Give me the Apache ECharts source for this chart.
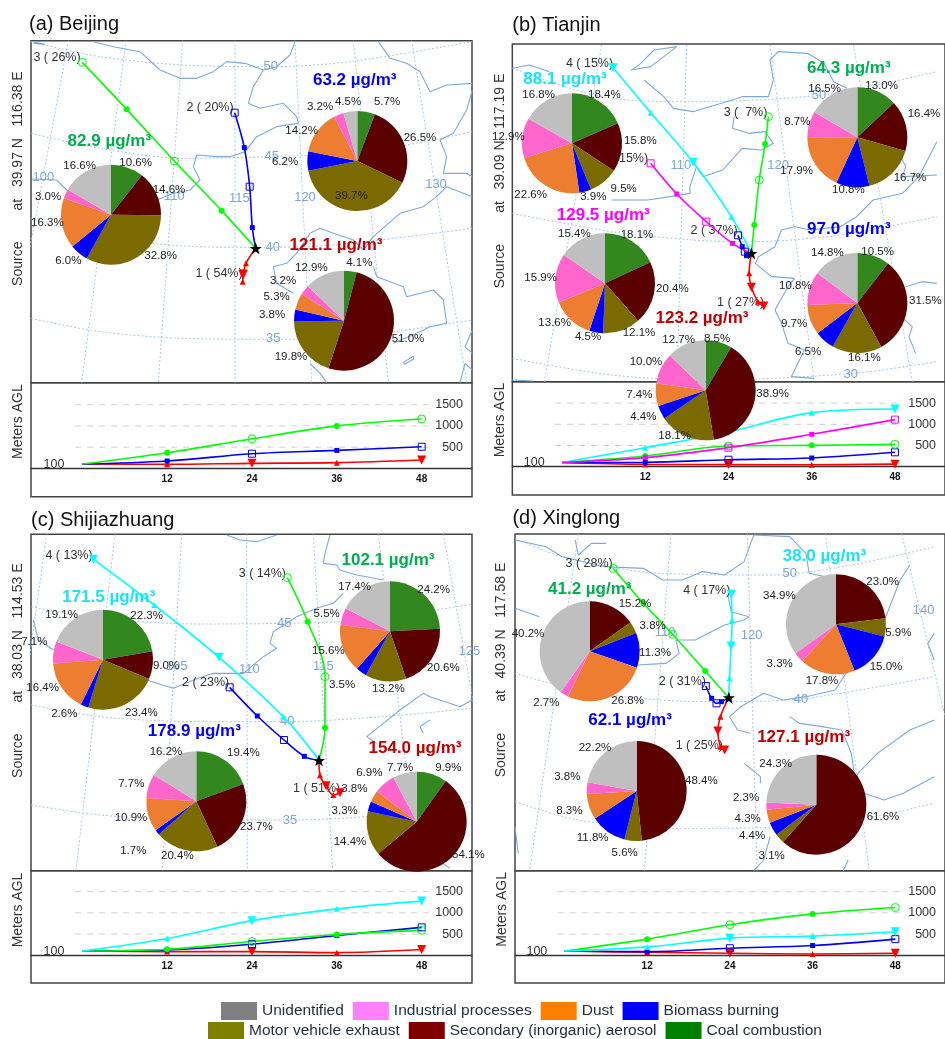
<!DOCTYPE html>
<html><head><meta charset="utf-8">
<style>html,body{margin:0;padding:0;background:#fff}#c{width:945px;height:1039px}</style>
<script src="https://cdn.jsdelivr.net/npm/echarts@6/dist/echarts.min.js"></script>
</head><body><div id="c"></div>
<script>
// ---------- DATA ----------
const categories = ['Coal combustion','Secondary (inorganic) aerosol','Motor vehicle exhaust','Biomass burning','Dust','Industrial processes','Unidentified'];
const hours = [0,12,24,36,48];
const heightTicks = [500,1000,1500];
const xTicks = [12,24,36,48];
const cityTitles = ['(a) Beijing','(b) Tianjin','(c) Shijiazhuang','(d) Xinglong'];
const sourceTexts = ['Source        at   39.97 N   116.38 E','Source        at   39.09 N   117.19 E','Source        at   38.03 N   114.53 E','Source        at   40.39 N   117.58 E'];

// PM2.5 per cluster and source shares (order of `categories`)
const beijingTotals = [82.9,63.2,121.1];
const beijingShares = [[10.6,14.6,32.8,6.0,16.3,3.0,16.6],[5.7,26.5,39.7,6.2,14.2,3.2,4.5],[4.1,51.0,19.8,3.8,5.3,3.2,12.9]];
const tianjinTotals = [88.1,64.3,129.5,97.0,123.2];
const tianjinShares = [[18.4,15.8,9.5,3.9,22.6,12.9,16.8],[13.0,16.4,16.7,10.8,17.9,8.7,16.5],[18.1,20.4,12.1,4.5,13.6,15.9,15.4],[10.5,31.5,16.1,6.5,9.7,10.8,14.8],[8.5,38.9,18.1,4.4,7.4,10.0,12.7]];
const shijiazhuangTotals = [171.5,102.1,178.9,154.0];
const shijiazhuangShares = [[22.3,9.0,23.4,2.6,16.4,7.1,19.1],[24.2,20.6,13.2,3.5,15.6,5.5,17.4],[19.4,23.7,20.4,1.7,10.9,7.7,16.2],[9.9,54.1,14.4,3.3,3.8,6.9,7.7]];
const xinglongTotals = [41.2,38.0,62.1,127.1];
const xinglongShares = [[0,15.2,3.8,11.3,26.8,2.7,40.2],[0,23.0,5.9,15.0,17.8,3.3,34.9],[0,48.4,5.6,11.8,8.3,3.8,22.2],[0,61.6,3.1,4.4,4.3,2.3,24.3]];

// Back-trajectories in map units: receptor, 12 h, 24 h, 36 h, 48 h
const beijingRoutes = [
 [[767,745],[738,790],[730,822],[728,845],[729,825]],
 [[767,745],[757,683],[749,560],[733,443],[704,338]],
 [[767,745],[665,632],[523,483],[380,328],[247,187]]];
const tianjinRoutes = [
 [[828,760],[821,820],[828,862],[848,905],[866,918]],
 [[828,760],[813,767],[808,755],[800,740],[787,706]],
 [[828,760],[837,675],[852,540],[870,432],[880,350]],
 [[828,760],[767,650],[650,487],[520,338],[405,203]],
 [[828,760],[770,730],[690,665],[600,582],[520,490]]];
const shijiazhuangRoutes = [
 [[957,781],[960,826],[978,857],[1000,885],[1020,878]],
 [[957,781],[913,769],[852,720],[772,648],[689,562]],
 [[957,781],[975,683],[975,530],[923,365],[862,233]],
 [[957,781],[850,650],[657,472],[463,315],[280,178]]];
const xinglongRoutes = [
 [[763,593],[737,650],[729,693],[737,740],[750,750]],
 [[763,593],[740,605],[725,610],[710,595],[692,558]],
 [[763,593],[690,513],[590,403],[500,310],[407,205]],
 [[763,593],[765,535],[770,438],[773,360],[770,283]]];

// Trajectory height (m AGL) at `hours`
const beijingHeights = [[100,94,117,133,195],[100,172,344,422,508],[100,367,695,1000,1164]];
const tianjinHeights = [[100,55,50,45,60],[100,102,165,205,339],[100,252,488,504,528],[100,449,820,1275,1362],[100,213,449,764,1110]];
const shijiazhuangHeights = [[100,87,87,63,135],[100,127,262,468,659],[100,143,325,492,587],[100,397,817,1095,1278]];
const xinglongHeights = [[100,71,48,32,48],[100,87,167,230,381],[100,381,722,976,1127],[100,198,405,452,556]];

const beijingRouteNames = ['1 ( 54%)','2 ( 20%)','3 ( 26%)'];
const tianjinRouteNames = ['1 ( 27%)','2 ( 37%)','3 (  7%)','4 ( 15%)','5 ( 15%)'];
const shijiazhuangRouteNames = ['1 ( 51%)','2 ( 23%)','3 ( 14%)','4 ( 13%)'];
const xinglongRouteNames = ['1 ( 25%)','2 ( 31%)','3 ( 28%)','4 ( 17%)'];

// Base map in map units
const beijingCoast = [
 [[100,125],[135,133],[100,130]],
 [[280,125],[340,140],[420,155],[480,210],[540,235],[590,235],[640,215],[680,185],[735,190],[790,210],[830,200],[870,165],[885,125]],
 [[790,210],[760,260],[745,310],[780,325],[850,310],[890,350],[895,370],[830,380],[770,410],[735,455],[690,470],[650,470],[590,465],[580,500],[600,540],[570,570],[520,580],[470,600],[420,570]],
 [[95,537],[170,540],[205,575]],
 [[1135,125],[1170,175],[1220,190],[1260,215],[1290,275],[1340,255],[1417,250]],
 [[1417,270],[1400,330],[1360,400],[1320,420],[1340,470],[1330,520],[1400,520],[1417,530]],
 [[1417,590],[1340,560],[1310,590],[1270,620],[1200,640],[1120,710],[1090,750],[1060,720],[1000,700],[960,685],[930,700],[890,760],[860,790],[820,800],[830,850],[880,880]],
 [[1120,800],[1130,830],[1210,860],[1220,890],[1300,870],[1330,900],[1340,970],[1290,980],[1250,1000],[1180,1030]],
 [[930,1090],[960,1120],[980,1148]],
 [[1210,1088],[1240,1068],[1240,1078],[1215,1092],[1210,1088]],
 [[1417,990],[1395,1040],[1417,1060]],[[1380,1148],[1395,1090],[1417,1110]]];
const tianjinCoast = [
 [[460,210],[520,200],[600,140],[530,150],[490,190],[460,212]],
 [[97,205],[150,195],[210,215]],
 [[500,240],[560,290],[590,325],[650,335],[700,320],[770,300],[800,290],[880,290],[895,240],[885,180],[910,155],[1000,160],[1050,190],[1080,245],[1120,265]],
 [[775,350],[770,385],[820,400],[870,395],[895,430],[860,450],[800,445],[740,510],[680,530],[660,500],[640,560],[640,580],[580,590],[510,600],[400,600]],
 [[1280,360],[1300,400],[1275,450],[1300,500],[1290,530],[1395,525]],
 [[1395,425],[1340,530],[1290,580],[1200,600],[1150,650],[1100,680],[1010,690],[960,680],[920,690],[900,740],[850,770],[840,790],[890,830],[960,835],[940,860],[900,930],[920,970],[940,1030],[990,1050],[950,1130],[1020,1135]],
 [[1300,860],[1350,845],[1395,850]],
 [[1285,950],[1320,980],[1310,1010],[1330,1060]],
 [[97,1140],[160,1143]]];
const shijiazhuangCoast = [
 [[680,105],[720,120],[770,125],[830,105]],
 [[990,105],[975,160],[970,190],[1010,195],[1020,210],[1070,225],[1150,240]],
 [[1030,280],[1000,310],[950,325],[890,350],[820,395],[810,430],[830,445],[790,470],[730,520],[640,520],[580,540],[520,565],[470,550],[440,540]],
 [[100,360],[115,420],[160,450]],
 [[1417,600],[1380,620],[1290,590],[1270,580],[1200,630],[1150,670],[1100,710],[1130,730]],
 [[1290,660],[1260,680],[1270,700]],
 [[1320,1085],[1350,1105]]];
const xinglongCoast = [
 [[290,120],[300,165],[340,130],[385,130]],
 [[105,120],[200,140],[250,170],[380,200],[500,205],[560,240],[620,240],[680,215],[750,225],[810,185],[830,130],[840,105]],
 [[840,105],[950,110],[1000,160],[1010,220],[1060,230]],
 [[760,285],[770,335],[825,350],[810,360],[750,375],[700,400],[660,420],[600,420],[610,460],[570,490],[480,495]],
 [[105,325],[180,350]],
 [[1320,195],[1290,240],[1250,340],[1215,420],[1130,510],[1090,570],[1000,590],[930,600],[870,580],[800,620],[765,650],[790,690],[830,700]],
 [[950,650],[980,670],[1050,680],[1110,690],[1140,760],[1150,830],[1080,860]],
 [[810,790],[860,830],[860,850]],
 [[1395,660],[1320,690],[1220,760],[1160,820],[1150,870],[1240,900],[1300,880],[1395,830]],
 [[105,980],[115,1060]],[[1130,1080],[1115,1112]],[[890,1010],[870,1080],[840,1112]],
 [[1395,400],[1375,430],[1395,480]]];

const beijingGraticule = [
 [[93,125],[300,170],[550,195],[812,200],[1050,185],[1417,125]],
 [[93,400],[300,445],[550,475],[812,470],[1100,455],[1417,395]],
 [[93,655],[300,710],[550,738],[767,742],[1000,735],[1417,685]],
 [[93,955],[300,995],[550,1015],[820,1018],[1100,1005],[1417,960]],
 [[205,122],[15,1148]],[[378,122],[245,1148]],[[548,122],[475,1148]],[[705,122],[705,1148]],[[885,122],[935,1148]],[[1060,122],[1165,1148]],[[1235,122],[1400,1148]]];
const tianjinGraticule = [
 [[97,205],[370,290],[630,305],[1040,285],[1395,215]],
 [[97,640],[400,695],[650,720],[828,725],[1100,705],[1395,650]],
 [[97,1075],[400,1125],[700,1140],[1140,1120],[1395,1085]],
 [[370,135],[195,1145]],[[630,135],[600,1145]],[[885,135],[1020,1145]],[[1140,135],[1320,1145]]];
const shijiazhuangGraticule = [
 [[93,320],[300,355],[600,372],[850,370],[1100,360],[1417,312]],
 [[93,615],[300,650],[600,665],[860,665],[1150,650],[1417,625]],
 [[93,915],[300,945],[600,960],[870,960],[1150,945],[1417,905]],
 [[140,103],[0,1112]],[[345,103],[228,1112]],[[545,103],[487,1112]],[[740,103],[742,1112]],[[940,103],[998,1112]],[[1135,103],[1255,1112]],[[1330,103],[1510,1112]]];
const xinglongGraticule = [
 [[105,115],[250,170],[550,220],[900,225],[1395,140]],
 [[105,520],[300,570],[550,600],[760,605],[1000,595],[1395,530]],
 [[105,905],[300,960],[600,985],[1000,980],[1395,910]],
 [[300,102],[150,1112]],[[585,102],[503,1112]],[[820,102],[850,1112]],[[1060,102],[1195,1112]],[[1295,102],[1540,1112]]];

const beijingGridNames = ['50','45','40','35','100','110','115','120','130'];
const tianjinGridNames = ['50','110','120','30'];
const shijiazhuangGridNames = ['45','105','110','115','125','40','35'];
const xinglongGridNames = ['50','110','120','40','140'];

// ---------- LAYOUT AND STYLE ----------
const pieRadius = 50;
const pieColors = ['#33871f','#5a0000','#7a6a00','#0000ff','#ed7d31','#ff66cc','#bfbfbf'];
const legendColors = ['#008000','#800000','#808000','#0000ff','#ff8000','#ff80ff','#808080'];
const routeColorSets = [['#ff0000','#0000ff','#00ff00'],['#ff0000','#0000ff','#00ff00','#00ffff','#ff00ff'],['#ff0000','#0000ff','#00ff00','#00ffff'],['#ff0000','#0000ff','#00ff00','#00ffff']];
const symbolKinds = {'#ff0000':'tri','#00ffff':'tri','#0000ff':'sq','#ff00ff':'sq','#00ff00':'ci'};
const frames = [
 {cropX:0,cropY:0,xMin:93,yMin:122,yMax:1148,hBottom:496.7,base:468.3,zeroX:82.3},
 {cropX:480,cropY:0,xMin:97,yMin:132,yMax:1145,hBottom:495,base:466.7,zeroX:563},
 {cropX:0,cropY:500,xMin:93,yMin:103,yMax:1112,hBottom:983,base:955.3,zeroX:82.3},
 {cropX:480,cropY:500,xMin:105,yMin:102,yMax:1112,hBottom:983,base:955.3,zeroX:565.7}];
const panelWidthPx = 441, pxPerHour = 7.07, pxPer500 = 21.2;

const sharesSets = [beijingShares,tianjinShares,shijiazhuangShares,xinglongShares];
const totalsSets = [beijingTotals,tianjinTotals,shijiazhuangTotals,xinglongTotals];
const routeSets = [beijingRoutes,tianjinRoutes,shijiazhuangRoutes,xinglongRoutes];
const heightSets = [beijingHeights,tianjinHeights,shijiazhuangHeights,xinglongHeights];
const routeNameSets = [beijingRouteNames,tianjinRouteNames,shijiazhuangRouteNames,xinglongRouteNames];
const coastSets = [beijingCoast,tianjinCoast,shijiazhuangCoast,xinglongCoast];
const graticuleSets = [beijingGraticule,tianjinGraticule,shijiazhuangGraticule,xinglongGraticule];
const gridNameSets = [beijingGridNames,tianjinGridNames,shijiazhuangGridNames,xinglongGridNames];

const pieCenters = [
 [[333,644],[1072,483],[1032,962]],
 [[276,430],[1132,412],[375,850],[1132,909],[677,1171]],
 [[309,479],[1170,394],[589,904],[1250,965]],
 [[329,454],[1068,373],[470,873],[1009,914]]];
const pieTitleSpots = [
 [[328,425],[1064,240],[1008,737]],
 [[258,238],[1126,205],[375,645],[1126,687],[677,955]],
 [[326,291],[1164,182],[583,693],[1245,746]],
 [[335,268],[1057,170],[459,662],[993,713]]];
const pieTitleColors = [
 ['#00b050','#0000ff','#c00000'],
 ['#19e3f5','#00b050','#ff00ff','#0000ff','#c00000'],
 ['#19e3f5','#00b050','#0000ff','#c00000'],
 ['#00b050','#19e3f5','#0000ff','#c00000']];
const pctSpots = [
 [[[407,487],[507,570],[482,766],[205,781],[142,667],[144,589],[239,496]],
  [[1161,304],[1260,414],[1054,586],[855,486],[905,393],[960,321],[1044,304]],
  [[1078,787],[1224,1017],[873,1069],[816,945],[830,891],[849,843],[934,804]]],
 [[[373,283],[481,421],[431,565],[340,589],[152,585],[85,411],[176,283]],
  [[1205,256],[1332,340],[1290,532],[1105,570],[950,513],[952,364],[1034,265]],
  [[471,703],[577,865],[477,997],[324,1009],[224,967],[182,832],[283,700]],
  [[1193,754],[1336,901],[1153,1072],[984,1056],[942,972],[946,856],[1042,757]],
  [[711,1015],[878,1180],[584,1306],[490,1249],[478,1183],[498,1084],[596,1018]]],
 [[[440,346],[498,496],[424,637],[193,640],[128,562],[103,425],[185,343]],
  [[1301,268],[1330,502],[1165,566],[1026,553],[985,451],[980,340],[1064,259]],
  [[730,757],[769,979],[532,1067],[400,1051],[393,952],[394,850],[498,754]],
  [[1345,802],[1405,1063],[1050,1024],[1034,931],[1063,865],[1108,817],[1200,802]]],
 [[[0,0],[465,310],[518,376],[525,457],[443,601],[199,607],[144,400]],
  [[0,0],[1208,244],[1255,397],[1218,499],[1026,541],[899,492],[898,286]],
  [[0,0],[664,841],[434,1057],[338,1012],[268,931],[262,829],[345,744]],
  [[0,0],[1209,951],[875,1068],[816,1006],[803,955],[798,892],[887,790]]]];
const routeLabelSpots = [
 [[657,821],[630,323],[171,172]],
 [[795,908],[714,693],[810,337],[333,190],[440,475]],
 [[950,866],[617,548],[787,220],[207,167]],
 [[672,738],[620,546],[333,192],[695,272]]];
const gridNameSpots = [
 [[812,198],[815,468],[818,742],[820,1015],[130,533],[523,590],[718,595],[915,592],[1308,552]],
 [[1035,285],[612,497],[910,497],[1132,1123]],
 [[853,370],[530,500],[748,507],[970,500],[1408,453],[862,665],[870,962]],
 [[950,220],[567,397],[833,405],[985,597],[1362,330]]];
const titleSpots = [[87,73],[97,77],[93,60],[97,55]];
const sourceSpots = [[55,536],[60,543],[55,512],[63,510]];
const metersSpots = [[55,1265],[60,1260],[55,1230],[65,1228]];
const FONT = '"Liberation Sans", Arial, sans-serif';
const STAR = 'path://M0,-10L2.6,-3.1L9.5,-3.1L4,1.2L5.9,8.1L0,3.8L-5.9,8.1L-4,1.2L-9.5,-3.1L-2.6,-3.1Z';

// ---------- OPTION BUILD ----------
const grid=[],xAxis=[],yAxis=[],series=[];
function symbolFor(color,i){
  const kind=symbolKinds[color];
  const open={color:'transparent',borderColor:color,borderWidth:1};
  const solid={color:color,borderWidth:0};
  if(i===0) return {symbol:'none'};
  if(kind==='tri') return i%2===1?{symbol:'triangle',symbolSize:6,itemStyle:solid}:{symbol:'triangle',symbolSize:9,symbolRotate:180,itemStyle:solid};
  if(kind==='sq') return i%2===1?{symbol:'rect',symbolSize:5,itemStyle:solid}:{symbol:'rect',symbolSize:7,itemStyle:open};
  return i%2===1?{symbol:'circle',symbolSize:6,itemStyle:solid}:{symbol:'circle',symbolSize:8,itemStyle:open};
}
function textItem(pos,text,style){
  return {value:pos,label:Object.assign({show:true,position:'inside',formatter:()=>text,fontFamily:FONT,align:'center',verticalAlign:'middle'},style)};
}
function textSeries(idx,items,z){
  return {type:'scatter',xAxisIndex:idx,yAxisIndex:idx,symbolSize:1,clip:false,silent:true,z:z,itemStyle:{color:'transparent',opacity:1},data:items};
}
frames.forEach((f,p)=>{
  const mapIdx=p*2, hIdx=p*2+1;
  const left=f.cropX+f.xMin/3, top=f.cropY+f.yMin/3, mapH=(f.yMax-f.yMin)/3, hTop=f.cropY+f.yMax/3, hH=f.hBottom-hTop;
  const toPx=(xy)=>[f.cropX+xy[0]/3,f.cropY+xy[1]/3];
  const frame={show:true,borderColor:'#444',borderWidth:1.5,backgroundColor:'transparent'};
  grid.push(Object.assign({left:left,top:top,width:panelWidthPx,height:mapH},frame));
  grid.push(Object.assign({left:left,top:hTop,width:panelWidthPx,height:hH},frame));
  xAxis.push({type:'value',gridIndex:mapIdx,show:false,min:f.xMin,max:f.xMin+panelWidthPx*3});
  yAxis.push({type:'value',gridIndex:mapIdx,show:false,inverse:true,min:f.yMin,max:f.yMax});
  xAxis.push({type:'value',gridIndex:hIdx,min:(left-f.zeroX)/pxPerHour,max:(left+panelWidthPx-f.zeroX)/pxPerHour,
    axisLine:{show:true,onZero:true,lineStyle:{color:'#333',width:1.3}},axisTick:{show:false},splitLine:{show:false},
    axisLabel:{customValues:xTicks,inside:true,margin:f.hBottom-f.base-16,fontFamily:FONT,fontSize:10,fontWeight:'bold',color:'#111'}});
  yAxis.push({type:'value',gridIndex:hIdx,position:'right',min:-(f.hBottom-f.base)/pxPer500*500,max:(f.base-hTop)/pxPer500*500,
    axisLine:{show:false},axisTick:{show:false},splitLine:{show:false},
    axisLabel:{customValues:heightTicks,formatter:(v)=>String(v),inside:true,margin:9,fontFamily:FONT,fontSize:12.5,color:'#333'}});
  // base map
  graticuleSets[p].forEach(l=>series.push({type:'line',xAxisIndex:mapIdx,yAxisIndex:mapIdx,data:l,smooth:0.3,symbol:'none',silent:true,z:1,
    lineStyle:{color:'#a9c8e8',width:1,type:[2,2]}}));
  coastSets[p].forEach(l=>series.push({type:'line',xAxisIndex:mapIdx,yAxisIndex:mapIdx,data:l,symbol:'none',silent:true,z:1,
    lineStyle:{color:'#7ea9d8',width:1.1}}));
  // dashed height levels
  heightTicks.forEach(t=>series.push({type:'line',xAxisIndex:hIdx,yAxisIndex:hIdx,data:[[-1,t],[49,t]],symbol:'none',silent:true,z:1,
    lineStyle:{color:'#cfcfcf',width:1,type:[6,6]}}));
  // trajectories and heights
  routeSets[p].forEach((route,r)=>{
    const color=routeColorSets[p][r];
    series.push({type:'line',xAxisIndex:mapIdx,yAxisIndex:mapIdx,smooth:0.35,showAllSymbol:true,silent:true,z:2,
      lineStyle:{color:color,width:1.6},itemStyle:{color:color},
      data:route.map((pt,i)=>Object.assign({value:pt},symbolFor(color,i)))});
    series.push({type:'line',xAxisIndex:hIdx,yAxisIndex:hIdx,smooth:0.35,showAllSymbol:true,silent:true,z:2,
      lineStyle:{color:color,width:1.6},itemStyle:{color:color},
      data:heightSets[p][r].map((h,i)=>Object.assign({value:[hours[i],h]},symbolFor(color,i)))});
  });
  // receptor star
  series.push({type:'scatter',xAxisIndex:mapIdx,yAxisIndex:mapIdx,symbol:STAR,symbolSize:12,silent:true,z:4,itemStyle:{color:'#000',opacity:1},data:[routeSets[p][0][0]]});
  // under-pie text: graticule names, trajectory names, panel annotations
  const low=[];
  gridNameSets[p].forEach((n,i)=>low.push(textItem(gridNameSpots[p][i],n,{fontSize:13,color:'#7ba7d7'})));
  routeNameSets[p].forEach((n,i)=>low.push(textItem(routeLabelSpots[p][i],n,{fontSize:12.5,color:'#333'})));
  low.push(textItem(titleSpots[p],cityTitles[p],{fontSize:20,color:'#111',align:'left'}));
  low.push(textItem(sourceSpots[p],sourceTexts[p],{fontSize:14,color:'#333',rotate:90}));
  low.push(textItem(metersSpots[p],'Meters AGL',{fontSize:14,color:'#333',rotate:90}));
  series.push(textSeries(mapIdx,low,1));
  series.push(textSeries(hIdx,[textItem([-4,100],'100',{fontSize:12.5,color:'#333'})],1));
  // pies
  sharesSets[p].forEach((vals,k)=>{
    const spots=pctSpots[p][k];
    series.push({type:'pie',silent:true,z:3,center:toPx(pieCenters[p][k]),radius:[0,pieRadius],startAngle:90,clockwise:true,avoidLabelOverlap:false,
      minAngle:0,minShowLabelAngle:0,percentPrecision:1,
      data:vals.map((v,i)=>({name:categories[i],value:v,itemStyle:{color:pieColors[i]},label:{show:v>0}})),
      label:{show:true,position:'outside',fontFamily:FONT,fontSize:11.5,color:'#222',formatter:(q)=>q.value.toFixed(1)+'%'},
      labelLine:{show:false},
      labelLayout:(q)=>{const xy=toPx(spots[q.dataIndex]);return {x:xy[0],y:xy[1],align:'center',verticalAlign:'middle'};}});
  });
  // concentration headings
  series.push(textSeries(mapIdx,totalsSets[p].map((t,k)=>textItem(pieTitleSpots[p][k],t.toFixed(1)+' µg/m³',{fontSize:17,fontWeight:'bold',color:pieTitleColors[p][k]})),5));
});
const legendBase={orient:'horizontal',itemWidth:36,itemHeight:18,itemGap:9,padding:0,selectedMode:false,icon:'rect',textStyle:{fontFamily:FONT,fontSize:15.5,color:'#1f2d3d'}};
const legendItem=(name)=>({name:name,itemStyle:{color:legendColors[categories.indexOf(name)]}});
const option={animation:false,backgroundColor:'#fff',grid,xAxis,yAxis,series,
  legend:[
    Object.assign({},legendBase,{left:221,top:1002,data:['Unidentified','Industrial processes','Dust','Biomass burning'].map(legendItem)}),
    Object.assign({},legendBase,{left:208,top:1022,data:['Motor vehicle exhaust','Secondary (inorganic) aerosol','Coal combustion'].map(legendItem)})
  ]};
const chart=echarts.init(document.getElementById('c'),null,{renderer:'canvas'});
chart.setOption(option);
</script></body></html>
